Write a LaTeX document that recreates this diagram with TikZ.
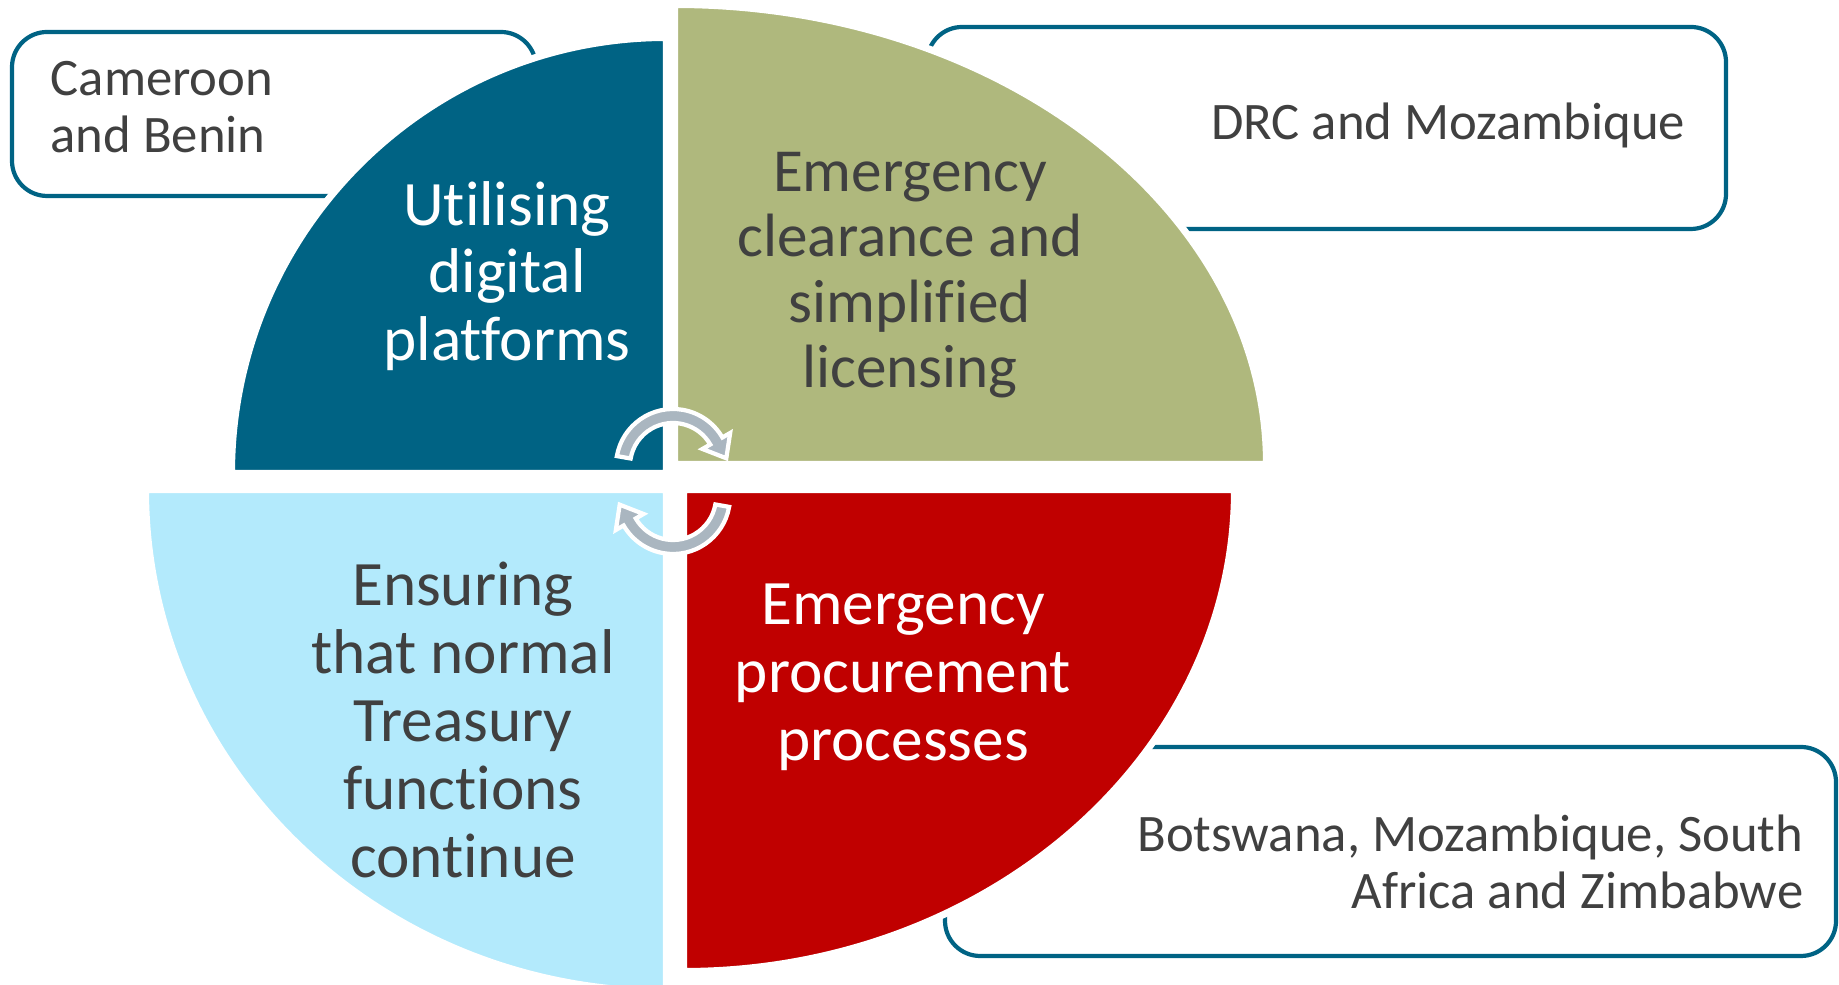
\documentclass[tikz,border=0pt]{standalone}
\usepackage{fontspec}
\setmainfont{Carlito}[Ligatures=NoCommon, Contextuals=NoAlternate]
\definecolor{platformblue}{RGB}{0,99,132}
\definecolor{clearancegreen}{RGB}{175,184,125}
\definecolor{treasuryblue}{RGB}{179,234,252}
\definecolor{procurementred}{RGB}{192,0,0}
\definecolor{arrowgray}{RGB}{170,182,192}
\definecolor{textgray}{RGB}{64,64,64}
\usepackage{tikz}

\begin{document}
\begin{tikzpicture}[
    quarter/.style={draw=white, line width=2pt},
    countrybox/.style={draw=platformblue, line width=1.2pt, rounded corners=10pt},
    bigtext/.style={align=center, font=\fontsize{18}{19.3}\selectfont},
    smalltext/.style={text=textgray, inner sep=0pt, font=\fontsize{15}{16.2}\selectfont},
    cyclearrow/.style={fill=arrowgray, draw=white, line width=1.2pt}
]
    \useasboundingbox (0,0) rectangle (18.39,9.85);

    % Country boxes (behind the quarters)
    \draw[countrybox] (0.12,7.89) rectangle (5.36,9.53);
    \draw[countrybox] (9.27,7.56) rectangle (17.26,9.58);
    \draw[countrybox] (9.45,0.29) rectangle (18.36,2.38);

    % Quarters
    \filldraw[quarter, fill=platformblue] (6.665,5.115) -- (2.315,5.115)
        arc[start angle=180, end angle=90, x radius=4.35, y radius=4.36] -- cycle;
    \filldraw[quarter, fill=clearancegreen] (6.745,5.205) -- (6.745,9.805)
        arc[start angle=90, end angle=0, x radius=5.92, y radius=4.60] -- cycle;
    \filldraw[quarter, fill=treasuryblue] (6.665,4.955) -- (1.455,4.955)
        arc[start angle=180, end angle=270, x radius=5.21, y radius=5.02] -- cycle;
    \filldraw[quarter, fill=procurementred] (6.835,4.955) -- (6.835,0.135)
        arc[start angle=270, end angle=360, x radius=5.51, y radius=4.82] -- cycle;

    % Quarter labels
    \node[bigtext, text=white] (digital) at (5.07,7.09) {Utilising\\digital\\platforms};
    \node[bigtext, text=textgray, font=\fontsize{17.4}{18.6}\selectfont] (clearance) at (9.10,7.10) {Emergency\\clearance and\\simplified\\licensing};
    \node[bigtext, text=textgray] (treasury) at (4.63,2.65) {Ensuring\\that normal\\Treasury\\functions\\continue};
    \node[bigtext, text=white] (procurement) at (9.03,3.08) {Emergency\\procurement\\processes};

    % Countries
    \node[smalltext, anchor=west, align=left] (cameroon) at (0.50,8.78) {Cameroon\\and Benin};
    \node[smalltext, anchor=east] (drc) at (16.86,8.60) {DRC and Mozambique};
    \node[smalltext, anchor=east, align=right] (botswana) at (18.04,1.23) {Botswana, Mozambique, South\\Africa and Zimbabwe};

    % Cycle arrows in the middle
    \foreach \cx/\cy/\turn in {6.73/5.19/0, 6.73/4.88/180} {
        \begin{scope}[shift={(\cx,\cy)}, rotate=\turn]
            \filldraw[cyclearrow] (170:0.57) arc[start angle=170, end angle=30, radius=0.57]
                -- (30:0.66) -- (0.533,0.077) -- (30:0.34) -- (30:0.43)
                arc[start angle=30, end angle=170, radius=0.43] -- cycle;
        \end{scope}
    }
\end{tikzpicture}
\end{document}
